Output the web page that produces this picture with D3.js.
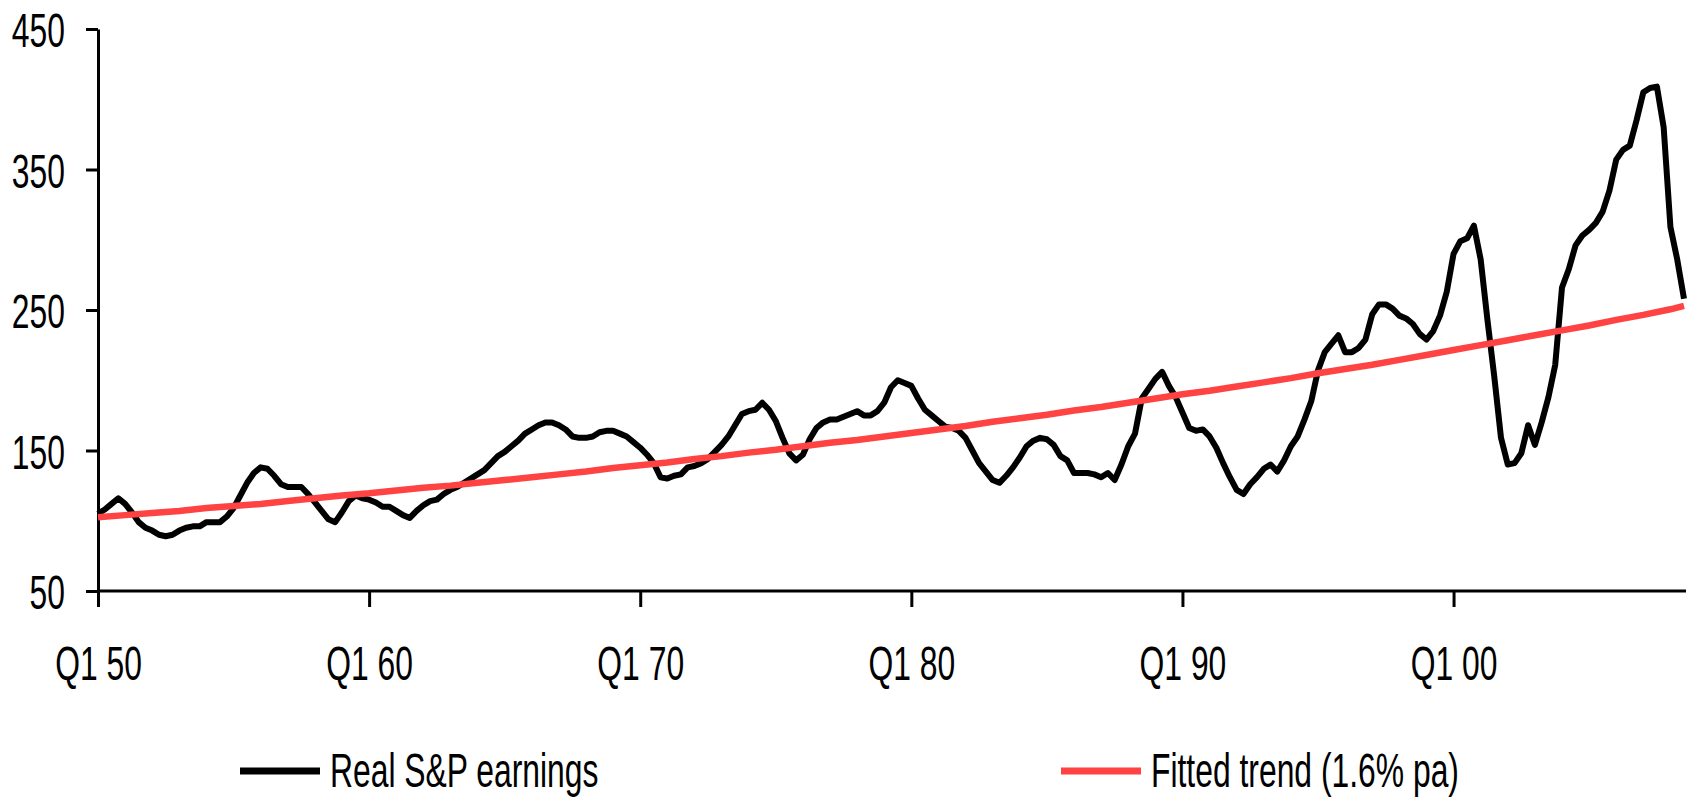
<!DOCTYPE html>
<html>
<head>
<meta charset="utf-8">
<script src="https://cdn.jsdelivr.net/npm/d3@7"></script>
<style>
  body { margin: 0; background: #fff; }
  svg text { font-family: "Liberation Sans", Arial, sans-serif; font-size: 49px; fill: #000; }
</style>
</head>
<body>
<script>
// quarterly real S&P earnings, Q1 1950 .. Q3 2008
var earnings = [
  105, 108, 112, 116,   112, 106, 99, 95,     93, 90, 89, 90,       93, 95, 96, 96,
  99, 99, 99, 103,      109, 118, 127, 134,   138, 137, 132, 126,   124, 124, 124, 119,
  113, 107, 101, 99,    106, 114, 118, 116,   115, 113, 110, 110,   107, 104, 102, 107,
  111, 114, 115, 119,   122, 124, 127, 130,   133, 136, 141, 146,   149, 153, 157, 162,
  165, 168, 170, 170,   168, 165, 160, 159,   159, 160, 163, 164,   164, 162, 160, 156,
  152, 147, 141, 131,   130, 132, 133, 138,   139, 141, 144, 149,   154, 160, 168, 176,
  178, 179, 184, 179,   171, 159, 148, 143,   147, 158, 166, 170,   172, 172, 174, 176,
  178, 175, 175, 178,   184, 195, 200, 198,   196, 187, 179, 175,   171, 167, 166, 164,
  159, 150, 141, 135,   129, 127, 132, 138,   145, 153, 157, 159,   158, 154, 146, 143,
  134, 134, 134, 133,   131, 134, 129, 140,   153, 162, 187, 194,   201, 206, 196, 188,
  177, 166, 164, 165,   160, 152, 141, 131,   122, 119, 126, 131,   137, 140, 135, 143,
  153, 160, 172, 185,   207, 220, 226, 232,   220, 220, 223, 229,   247, 254, 254, 251,
  246, 244, 240, 233,   229, 235, 246, 263,   290, 299, 301, 310,   286, 243, 203, 159,
  140, 141, 148, 168,   154, 170, 188, 211,   266, 279, 296, 303,   307, 312, 320, 335,
  357, 364, 367, 385,   405, 408, 409, 380,   309, 286, 258
];

// fitted trend (1.6% pa), Q1 of each year 1950..2008, then Q3 2008
var trend = [
  102.5, 104, 105.5, 107, 109, 110.5, 112, 114, 116, 118,
  119.5, 121.5, 123.5, 125, 127, 129, 131, 133, 135, 137.5,
  139.5, 141.5, 144, 146, 148.5, 150.5, 153, 155.5, 157.5, 160,
  162.5, 165, 167.5, 170.5, 173, 175.5, 178.5, 181, 184, 187,
  190, 192.5, 195.5, 198.5, 201.5, 205, 208, 211, 214.5, 218,
  221.5, 225, 228.5, 232, 235.5, 239, 243, 246.5, 250.5, 253
];

var xTickLabels = ["Q1 50", "Q1 60", "Q1 70", "Q1 80", "Q1 90", "Q1 00"];
var yTicks = [50, 150, 250, 350, 450];
var seriesNames = ["Real S&P earnings", "Fitted trend (1.6% pa)"];
var seriesColors = ["#000000", "#ff4242"];

function qLabel(i) {
  return "Q" + (i % 4 + 1) + " " + String(1950 + Math.floor(i / 4)).slice(2);
}
var quarters = earnings.map(function(d, i) { return qLabel(i); });
var trendQuarters = trend.map(function(d, i) { return i < trend.length - 1 ? qLabel(i * 4) : quarters[quarters.length - 1]; });

var width = 1688, height = 797;
var sx = 0.65; // narrow type

var svg = d3.select("body").append("svg")
    .attr("width", width)
    .attr("height", height);

var x = d3.scalePoint().domain(quarters).range([98, 1684]);
var y = d3.scaleLinear().domain([50, 450]).range([591, 29]);

var xAxis = d3.axisBottom(x).tickValues(xTickLabels).tickSize(16).tickSizeOuter(0);
var yAxis = d3.axisLeft(y).tickValues(yTicks).tickSize(12).tickSizeOuter(0);

var xg = svg.append("g").attr("transform", "translate(0,591)").call(xAxis);
xg.select(".domain").attr("d", "M98,0H1686");
xg.selectAll("text")
    .attr("y", 89).attr("dy", 0)
    .attr("transform", "scale(" + sx + ",1)")
    .style("font-size", "49px").style("font-family", "Liberation Sans, Arial, sans-serif");

var yg = svg.append("g").attr("transform", "translate(98,0)").call(yAxis);
yg.selectAll("text")
    .attr("x", -33 / sx).attr("dy", "0.36em")
    .attr("transform", "scale(" + sx + ",1)")
    .style("font-size", "49px").style("font-family", "Liberation Sans, Arial, sans-serif");

svg.selectAll(".domain, .tick line")
    .attr("stroke", "#000")
    .attr("stroke-width", 3);

var line = d3.line()
    .x(function(d) { return x(d[0]); })
    .y(function(d) { return y(d[1]); });

svg.append("path")
    .datum(quarters.map(function(q, i) { return [q, earnings[i]]; }))
    .attr("d", line)
    .attr("fill", "none")
    .attr("stroke", seriesColors[0])
    .attr("stroke-width", 6)
    .attr("stroke-linejoin", "round");

svg.append("path")
    .datum(trendQuarters.map(function(q, i) { return [q, trend[i]]; }))
    .attr("d", line)
    .attr("fill", "none")
    .attr("stroke", seriesColors[1])
    .attr("stroke-width", 6.5);

// legend
var legendX = [240, 1061];
var leg = svg.selectAll(".legend")
    .data(seriesNames)
    .enter().append("g")
    .attr("class", "legend")
    .attr("transform", function(d, i) { return "translate(" + legendX[i] + ",771)"; });

leg.append("line")
    .attr("x1", 0).attr("x2", 80)
    .attr("stroke", function(d, i) { return seriesColors[i]; })
    .attr("stroke-width", 7);

leg.append("text")
    .attr("x", 90 / sx)
    .attr("y", 16)
    .attr("transform", "scale(" + sx + ",1)")
    .text(function(d) { return d; });
</script>
</body>
</html>
